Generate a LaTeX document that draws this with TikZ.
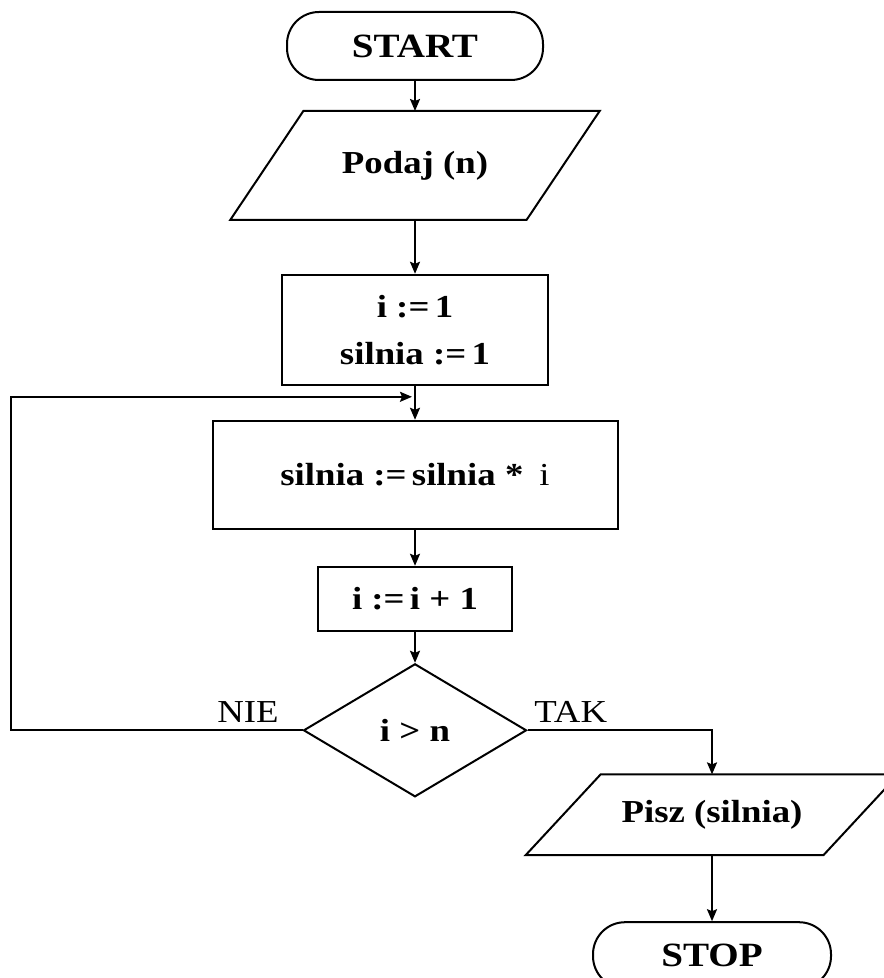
\documentclass[tikz,border=0pt]{standalone}
\usepackage{fontspec}
\setmainfont{Liberation Serif}[FakeStretch=1.15]
\usetikzlibrary{positioning, arrows.meta, shapes.geometric, calc}
\tikzset{
  terminal/.style={draw, line width=1pt, rectangle, rounded corners=16pt, minimum width=128pt, minimum height=34pt, inner sep=0pt, font=\fontsize{17}{20}\selectfont\bfseries},
  io/.style={rectangle, inner sep=0pt, align=center, font=\fontsize{16}{20}\selectfont\bfseries},
  outline/.style={line width=1pt, line join=miter},
  process/.style={draw, line width=1pt, rectangle, inner sep=0pt, align=center, font=\fontsize{16}{23.5}\selectfont\bfseries},
  decision/.style={draw, line width=1pt, diamond, aspect=1.6, inner sep=0pt, minimum width=111.5pt, minimum height=66.5pt, font=\fontsize{16}{20}\selectfont\bfseries},
  answer/.style={inner sep=0pt, font=\fontsize{16}{20}\selectfont},
  arrow/.style={-{Stealth[length=6pt, width=5pt, inset=1pt]}, line width=1pt},
}
\begin{document}
\begin{tikzpicture}
  \useasboundingbox (0,0) rectangle (441.5pt,-489pt);
  % main column
  \node[terminal] (start) at (207.5pt,-23pt) {START};
  \node[io, below=15pt of start, minimum width=147.75pt, minimum height=54pt] (read) {Podaj (n)};
  \node[process, below=27pt of read, minimum width=133pt, minimum height=55pt] (init)
    {i :=\,1\\silnia :=\,1};
  \node[process, below=17pt of init, minimum width=202.5pt, minimum height=54pt] (mult)
    {silnia :=\,silnia *\enspace{\mdseries i}};
  \node[process, below=18pt of mult, minimum width=97pt, minimum height=32pt] (incr)
    {i :=\,i + 1};
  \node[decision, below=15.5pt of incr] (test) {i > n};
  % output branch
  \node[io, minimum width=148.5pt, minimum height=40pt] (write)
    at ($(test)+(148.5pt,-42.25pt)$) {Pisz (silnia)};
  \node[terminal, below=33pt of write, minimum width=119pt, minimum height=33pt] (stop) {STOP};

  % slanted outlines of the input/output boxes
  \draw[outline] ($(read.south west)+(-18.25pt,0)$) -- ($(read.south east)+(-18.25pt,0)$)
    -- ($(read.north east)+(18.25pt,0)$) -- ($(read.north west)+(18.25pt,0)$) -- cycle;
  \draw[outline] ($(write.south west)+(-18.75pt,0)$) -- ($(write.south east)+(-18.75pt,0)$)
    -- ($(write.north east)+(18.75pt,0)$) -- ($(write.north west)+(18.75pt,0)$) -- cycle;

  % helper points for the loop
  \coordinate (join) at ($(init.south)+(-1.5pt,-5.5pt)$);
  \coordinate (back) at ($(test.west)+(-145.75pt,0)$);

  % edges
  \draw[arrow] (start) -- (read);
  \draw[arrow] (read) -- (init);
  \draw[arrow] (init) -- (mult);
  \draw[arrow] (mult) -- (incr);
  \draw[arrow] (incr) -- (test);
  \draw[arrow] (test.west) -- (back) |- (join);
  \draw[arrow] (test.east) -| (write);
  \draw[arrow] (write) -- (stop);

  % branch labels
  \node[answer, above left=3.5pt and 11.75pt of test.west] (no) {NIE};
  \node[answer, above right=3.5pt and 3.25pt of test.east] (yes) {TAK};
\end{tikzpicture}
\end{document}
